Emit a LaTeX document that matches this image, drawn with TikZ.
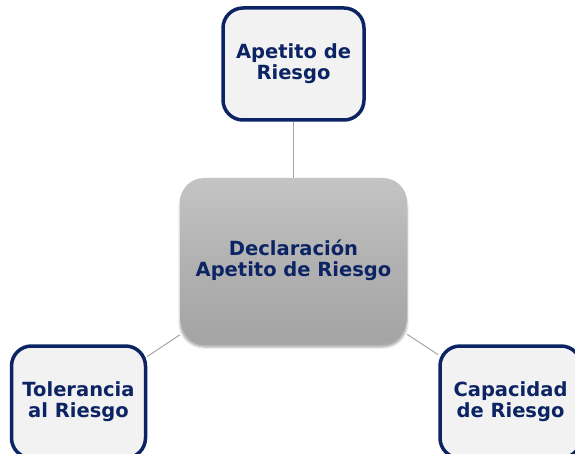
\documentclass[tikz,border=0pt]{standalone}
\usepackage{fontspec}
\setmainfont{DejaVu Sans}
\usetikzlibrary{shadows.blur,backgrounds}
\definecolor{navy}{RGB}{12,36,100}
\definecolor{boxfill}{RGB}{242,242,242}
\definecolor{linkgray}{RGB}{166,166,166}
\definecolor{gtop}{RGB}{196,196,196}
\definecolor{gmid}{RGB}{178,178,178}
\definecolor{gbot}{RGB}{164,164,164}
\begin{document}
\begin{tikzpicture}[x=1pt,y=-1pt,
  leaf/.style={draw=navy, line width=3.5pt, fill=boxfill, rounded corners=20pt,
    minimum width=#1, minimum height=112pt, inner sep=0pt, align=center,
    text=navy, font=\bfseries\fontsize{19.5}{21}\selectfont},
  leaf/.default=141pt,
  hub/.style={rounded corners=24pt, minimum width=227pt, minimum height=164pt,
    top color=gtop, bottom color=gbot, middle color=gmid, draw=none,
    align=center, text=navy, font=\bfseries\fontsize{19.5}{21}\selectfont,
    blur shadow={shadow xshift=0pt, shadow yshift=-5pt, shadow blur steps=6, shadow opacity=35}},
  link/.style={draw=linkgray, line width=1pt}]
\useasboundingbox (0,0) rectangle (575,454);
\node[hub] (decl) at (293.5,260) {Declaración\\Apetito de Riesgo};
\node[leaf] (ape) at (293.5,64) {Apetito de\\Riesgo};
\node[leaf=134pt] (tol) at (78.5,402) {Tolerancia\\al Riesgo};
\node[leaf] (cap) at (510.5,402) {Capacidad\\de Riesgo};
\begin{scope}[on background layer]
\draw[link] (ape) -- (decl);
\draw[link] (tol) -- (decl);
\draw[link] (cap) -- (decl);
\end{scope}
\end{tikzpicture}
\end{document}
